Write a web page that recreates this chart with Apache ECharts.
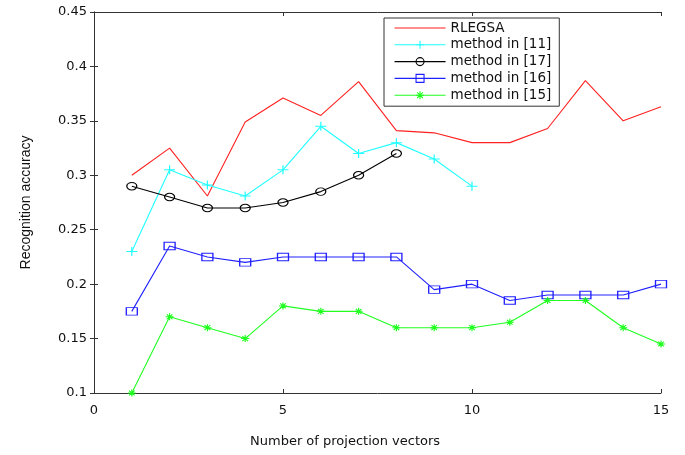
<!DOCTYPE html>
<html><head><meta charset="utf-8">
<script src="https://cdn.jsdelivr.net/npm/echarts@6/dist/echarts.min.js"></script>
<style>html,body{margin:0;padding:0;background:#fff}#c{width:685px;height:455px}</style>
</head><body><div id="c"></div>
<script>
const xs = [1,2,3,4,5,6,7,8,9,10,11,12,13,14,15];
const rlegsa = [0.300,0.325,0.281,0.349,0.371,0.355,0.386,0.341,0.339,0.330,0.330,0.343,0.387,0.350,0.363];
const m11 = [0.230,0.305,0.291,0.281,0.305,0.345,0.320,0.330,0.315,0.290];
const m17 = [0.290,0.280,0.270,0.270,0.275,0.285,0.300,0.320];
const m16 = [0.175,0.235,0.225,0.220,0.225,0.225,0.225,0.225,0.195,0.200,0.185,0.190,0.190,0.190,0.200];
const m15 = [0.100,0.170,0.160,0.150,0.180,0.175,0.175,0.160,0.160,0.160,0.165,0.185,0.185,0.160,0.145];
const names = ['RLEGSA','method in [11]','method in [17]','method in [16]','method in [15]'];
const yTicks = [0.1,0.15,0.2,0.25,0.3,0.35,0.4,0.45];
const xTicks = [0,5,10,15];
const xTitle = 'Number of projection vectors';
const yTitle = 'Recognition accuracy';

const pair = arr => arr.map((v,i)=>[xs[i],v]);
const dv = '"DejaVu Sans", Verdana, sans-serif';
const lib = '"Liberation Sans", Arial, sans-serif';
const PLUS = 'path://M0,-1L0,1M-1,0L1,0';
const STAR = 'path://M0,-1L0,1M-1,0L1,0M-0.7,-0.7L0.7,0.7M-0.7,0.7L0.7,-0.7';
const CIRC = 'path://M1,0A1,1,0,1,1,-1,0A1,1,0,1,1,1,0Z';
const SQ = 'path://M-1,-1L1,-1L1,1L-1,1Z';

function ser(name, data, color, symbol, size){
  return {
    name, type:'line', data:pair(data), xAxisIndex:0, yAxisIndex:0,
    symbol: symbol, symbolSize: size, showSymbol: symbol!=='none',
    lineStyle:{color, width:1.1},
    itemStyle:{color:'rgba(0,0,0,0)', borderColor:color, borderWidth: symbol==='none'?0:1.1},
    emphasis:{disabled:true}, animation:false
  };
}
const axisLine = {show:true, lineStyle:{color:'#333', width:1}};
const tick = {show:true, inside:true, length:4, lineStyle:{color:'#333'}};
const legendData = names.map((n,i) => i===0
  ? {name:n, itemStyle:{borderWidth:0, borderColor:'rgba(0,0,0,0)', color:'rgba(0,0,0,0)'}}
  : {name:n});
const chart = echarts.init(document.getElementById('c'));
chart.setOption({
  animation:false,
  title:{text:xTitle, left:250, top:435, padding:0,
    textStyle:{fontFamily:dv, fontSize:13, fontWeight:'normal', color:'#111'}},
  grid:{left:94, right:24, top:12, bottom:62},
  legend:{
    orient:'vertical', left:384, top:18, padding:[3,8,4,10],
    itemWidth:51, itemHeight:10, itemGap:2.8,
    lineStyle:{width:1.1}, itemStyle:{borderWidth:1.1},
    borderColor:'#333', borderWidth:1, backgroundColor:'#fff',
    textStyle:{fontFamily:dv, fontSize:13.5, color:'#111'},
    data:legendData
  },
  xAxis:[
    {type:'value', min:0, max:15, interval:5, position:'bottom',
     axisLine, axisTick:tick, splitLine:{show:false},
     axisLabel:{fontFamily:dv, fontSize:13, color:'#111', margin:11,
       formatter: v => xTicks.includes(v) ? String(v) : ''}},
    {type:'value', min:0, max:15, interval:5, position:'top',
     axisLine, axisTick:tick, splitLine:{show:false}, axisLabel:{show:false}}
  ],
  yAxis:[
    {type:'value', min:0.1, max:0.45, interval:0.05, position:'left',
     name:yTitle, nameLocation:'middle', nameGap:61, nameRotate:90,
     nameTextStyle:{fontFamily:lib, fontSize:14, color:'#111'},
     axisLine, axisTick:tick, splitLine:{show:false},
     axisLabel:{fontFamily:dv, fontSize:13, color:'#111', margin:7,
       formatter: v => { const r = +v.toFixed(2); return yTicks.includes(r) ? String(r) : ''; }}},
    {type:'value', min:0.1, max:0.45, interval:0.05, position:'right',
     axisLine, axisTick:tick, splitLine:{show:false}, axisLabel:{show:false}}
  ],
  series:[
    ser(names[0], rlegsa, '#ff2020', 'none', 0),
    ser(names[1], m11, '#20ffff', PLUS, [11,9]),
    ser(names[2], m17, '#000000', CIRC, [10,7.5]),
    ser(names[3], m16, '#2020ff', SQ, [11,7.5]),
    ser(names[4], m15, '#20ff20', STAR, [8,7])
  ]
});
</script></body></html>
